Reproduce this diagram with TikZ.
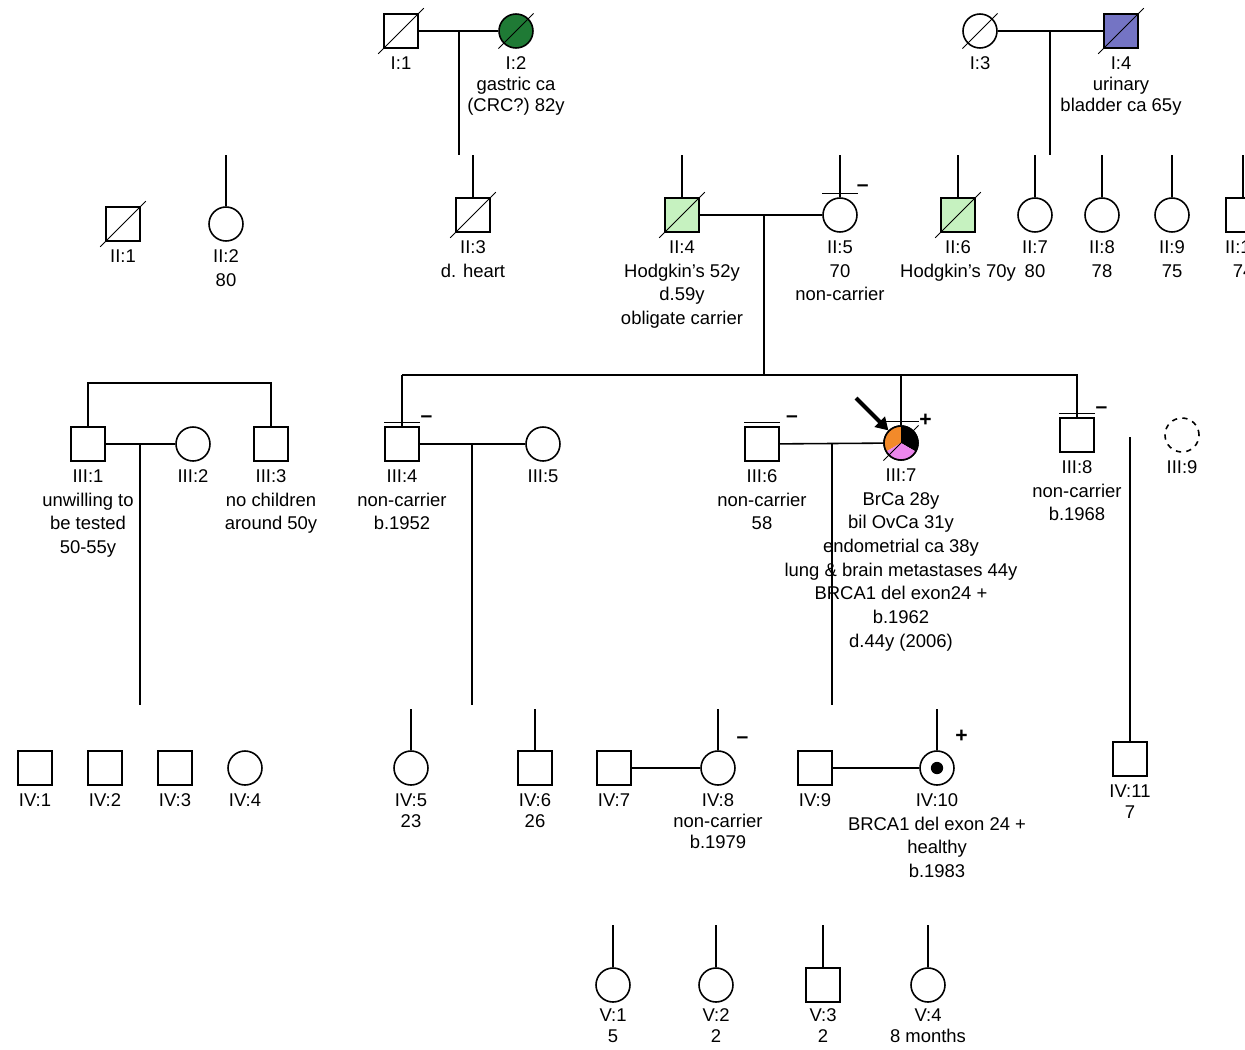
\documentclass[tikz,border=0pt]{standalone}
\usepackage{fontspec}
\setmainfont{Liberation Sans}
\usepackage{tikz}
\usetikzlibrary{arrows.meta, calc, positioning}
\definecolor{dunkelgruen}{HTML}{1F7A35}
\definecolor{hellgruen}{HTML}{C6F2C0}
\definecolor{blase}{HTML}{7474C4}
\definecolor{brust}{HTML}{F28A2A}
\definecolor{ovar}{HTML}{EC86EC}

% verstorben: Diagonale durch das Symbol
\newcommand{\verstorben}[1]{\draw[line width=0.5pt, shorten <=-4pt, shorten >=-4pt] (#1.south west) -- (#1.north east);}
% getestet: Strich über dem Symbol
\newcommand{\getestet}[1]{\draw ([shift={(-10pt,2pt)}]#1.north) -- ([shift={(10pt,2pt)}]#1.north);}

\begin{document}
\begin{tikzpicture}[x=0.02cm, y=-0.02cm, line width=0.9pt,
    mann/.style={draw, rectangle, minimum size=6.8mm, inner sep=0pt},
    frau/.style={draw, circle, minimum size=6.8mm, inner sep=0pt},
    info/.style={font=\fontsize{10.5}{13.5}\selectfont, align=center, inner sep=0pt},
    knapp/.style={font=\fontsize{10.5}{12}\selectfont},
    zeichen/.style={font=\fontsize{12}{12}\selectfont\bfseries, inner sep=0pt}]
  \useasboundingbox (0,0) rectangle (1245,1049);
  \clip (0,0) rectangle (1245,1049);

  % Generation I
  \node[mann] (i1) at (401,31) {};
  \node[frau, fill=dunkelgruen] (i2) at (516,31) {};
  \node[frau] (i3) at (980,31) {};
  \node[mann, fill=blase] (i4) at (1121,31) {};
  \verstorben{i1} \verstorben{i2} \verstorben{i3} \verstorben{i4}
  \node[info, below=4pt of i1] (i1t) {I:1};
  \node[info, knapp, below=4pt of i2] (i2t) {I:2\\gastric ca\\(CRC?) 82y};
  \node[info, below=4pt of i3] (i3t) {I:3};
  \node[info, knapp, below=4pt of i4] (i4t) {I:4\\urinary\\bladder ca 65y};
  \draw (i1) -- (i2);
  \draw (i3) -- (i4);
  \coordinate (i12) at (459,31);
  \coordinate (i12u) at (459,155);
  \coordinate (i34) at (1050,31);
  \coordinate (i34u) at (1050,155);
  \draw (i12) -- (i12u);
  \draw (i34) -- (i34u);

  % Generation II
  \coordinate (g2) at (0,155);
  \node[mann] (ii1) at (123,224) {};
  \node[frau] (ii2) at (226,224) {};
  \node[mann] (ii3) at (473,215) {};
  \node[mann, fill=hellgruen] (ii4) at (682,215) {};
  \node[frau] (ii5) at (840,215) {};
  \node[mann, fill=hellgruen] (ii6) at (958,215) {};
  \node[frau] (ii7) at (1035,215) {};
  \node[frau] (ii8) at (1102,215) {};
  \node[frau] (ii9) at (1172,215) {};
  \node[mann] (ii10) at (1243,215) {};
  \verstorben{ii1} \verstorben{ii3} \verstorben{ii4} \verstorben{ii6}
  \foreach \n in {ii2,ii3,ii4,ii5,ii6,ii7,ii8,ii9,ii10}
    \draw (\n.north) -- (\n.north |- g2);
  \getestet{ii5}
  \node[zeichen] (ii5z) at ([shift={(13pt,5pt)}]ii5.north) {–};
  \draw (ii4) -- (ii5);
  \coordinate (ii45) at (764,215);
  \coordinate (g3) at (764,375);
  \draw (ii45) -- (g3);
  \node[info, below=4pt of ii1] (ii1t) {II:1};
  \node[info, below=4pt of ii2] (ii2t) {II:2\\80};
  \node[info, below=4pt of ii3] (ii3t) {II:3\\d. heart};
  \node[info, below=4pt of ii4] (ii4t) {II:4\\Hodgkin's 52y\\d.59y\\obligate carrier};
  \node[info, below=4pt of ii5] (ii5t) {II:5\\70\\non-carrier};
  \node[info, below=4pt of ii6] (ii6t) {II:6\\Hodgkin's 70y};
  \node[info, below=4pt of ii7] (ii7t) {II:7\\80};
  \node[info, below=4pt of ii8] (ii8t) {II:8\\78};
  \node[info, below=4pt of ii9] (ii9t) {II:9\\75};
  \node[info, below=4pt of ii10] (ii10t) {II:10\\74};

  % Generation III
  \coordinate (g3l) at (402,375);
  \coordinate (g3r) at (1078,375);
  \draw (g3l) -- (g3r);
  \node[mann] (iii1) at (88,444) {};
  \node[frau] (iii2) at (193,444) {};
  \node[mann] (iii3) at (271,444) {};
  \node[mann] (iii4) at (402,444) {};
  \node[frau] (iii5) at (543,444) {};
  \node[mann] (iii6) at (762,444) {};
  \node[frau] (iii7) at (901,443) {};
  \node[mann] (iii8) at (1077,435) {};
  \node[frau, dashed] (iii9) at (1182,435) {};
  % Probandin: drei Sektoren
  \fill[brust] (iii7.center) -- ++(90:0.34cm) arc[start angle=90, end angle=210, radius=0.34cm] -- cycle;
  \fill[black] (iii7.center) -- ++(-30:0.34cm) arc[start angle=-30, end angle=90, radius=0.34cm] -- cycle;
  \fill[ovar] (iii7.center) -- ++(210:0.34cm) arc[start angle=210, end angle=330, radius=0.34cm] -- cycle;
  \draw (iii7.center) circle[radius=0.34cm];
  \verstorben{iii7}
  \coordinate (pfeil) at (856,398);
  \draw[-{Triangle[length=7pt, width=8pt]}, line width=2.4pt] (pfeil) -- (iii7.north west);
  \foreach \n in {iii4,iii7,iii8}
    \draw (\n.north) -- (\n.north |- g3l);
  \coordinate (b3) at (180,383);
  \draw (iii1.north) |- (b3) -| (iii3.north);
  \draw (iii1) -- (iii2);
  \draw (iii4) -- (iii5);
  \draw (iii6) -- (iii7);
  \coordinate (iii12) at (140,444);
  \coordinate (iii12u) at (140,705);
  \coordinate (iii45) at (472,444);
  \coordinate (iii45u) at (472,705);
  \coordinate (iii67) at (832,444);
  \coordinate (iii67u) at (832,705);
  \draw (iii12) -- (iii12u);
  \draw (iii45) -- (iii45u);
  \draw (iii67) -- (iii67u);
  \getestet{iii4} \getestet{iii6} \getestet{iii7} \getestet{iii8}
  \node[zeichen] (iii4z) at ([shift={(14pt,4pt)}]iii4.north) {–};
  \node[zeichen] (iii6z) at ([shift={(17pt,4pt)}]iii6.north) {–};
  \node[zeichen] (iii7z) at ([shift={(14pt,3pt)}]iii7.north) {+};
  \node[zeichen] (iii8z) at ([shift={(14pt,4pt)}]iii8.north) {–};
  \node[info, below=4pt of iii1] (iii1t) {III:1\\unwilling to\\be tested\\50-55y};
  \node[info, below=4pt of iii2] (iii2t) {III:2};
  \node[info, below=4pt of iii3] (iii3t) {III:3\\no children\\around 50y};
  \node[info, below=4pt of iii4] (iii4t) {III:4\\non-carrier\\b.1952};
  \node[info, below=4pt of iii5] (iii5t) {III:5};
  \node[info, below=4pt of iii6] (iii6t) {III:6\\non-carrier\\58};
  \node[info, below=4pt of iii7] (iii7t) {III:7\\BrCa 28y\\bil OvCa 31y\\endometrial ca 38y\\lung \& brain metastases 44y\\BRCA1 del exon24 +\\b.1962\\d.44y (2006)};
  \node[info, below=4pt of iii8] (iii8t) {III:8\\non-carrier\\b.1968};
  \node[info, below=4pt of iii9] (iii9t) {III:9};

  % Generation IV
  \coordinate (g4) at (0,709);
  \node[mann] (iv1) at (35,768) {};
  \node[mann] (iv2) at (105,768) {};
  \node[mann] (iv3) at (175,768) {};
  \node[frau] (iv4) at (245,768) {};
  \node[frau] (iv5) at (411,768) {};
  \node[mann] (iv6) at (535,768) {};
  \node[mann] (iv7) at (614,768) {};
  \node[frau] (iv8) at (718,768) {};
  \node[mann] (iv9) at (815,768) {};
  \node[frau] (iv10) at (937,768) {};
  \node[mann] (iv11) at (1130,759) {};
  \fill (iv10.center) circle[radius=3.5pt];
  \foreach \n in {iv5,iv6,iv8,iv10}
    \draw (\n.north) -- (\n.north |- g4);
  \coordinate (r1) at (1130,437);
  \draw (r1) -- (iv11.north);
  \draw (iv7) -- (iv8);
  \draw (iv9) -- (iv10);
  \node[zeichen] (iv8z) at ([shift={(14pt,6pt)}]iv8.north) {–};
  \node[zeichen] (iv10z) at ([shift={(14pt,8pt)}]iv10.north) {+};
  \node[info, below=4pt of iv1] (iv1t) {IV:1};
  \node[info, below=4pt of iv2] (iv2t) {IV:2};
  \node[info, below=4pt of iv3] (iv3t) {IV:3};
  \node[info, below=4pt of iv4] (iv4t) {IV:4};
  \node[info, knapp, below=4pt of iv5] (iv5t) {IV:5\\23};
  \node[info, knapp, below=4pt of iv6] (iv6t) {IV:6\\26};
  \node[info, below=4pt of iv7] (iv7t) {IV:7};
  \node[info, knapp, below=4pt of iv8] (iv8t) {IV:8\\non-carrier\\b.1979};
  \node[info, below=4pt of iv9] (iv9t) {IV:9};
  \node[info, below=4pt of iv10] (iv10t) {IV:10\\BRCA1 del exon 24 +\\healthy\\b.1983};
  \node[info, knapp, below=4pt of iv11] (iv11t) {IV:11\\7};

  % Generation V
  \coordinate (g5) at (0,925);
  \node[frau] (v1) at (613,985) {};
  \node[frau] (v2) at (716,985) {};
  \node[mann] (v3) at (823,985) {};
  \node[frau] (v4) at (928,985) {};
  \foreach \n in {v1,v2,v3,v4}
    \draw (\n.north) -- (\n.north |- g5);
  \node[info, knapp, below=3pt of v1] (v1t) {V:1\\5};
  \node[info, knapp, below=3pt of v2] (v2t) {V:2\\2};
  \node[info, knapp, below=3pt of v3] (v3t) {V:3\\2};
  \node[info, knapp, below=3pt of v4] (v4t) {V:4\\8 months};
\end{tikzpicture}
\end{document}
